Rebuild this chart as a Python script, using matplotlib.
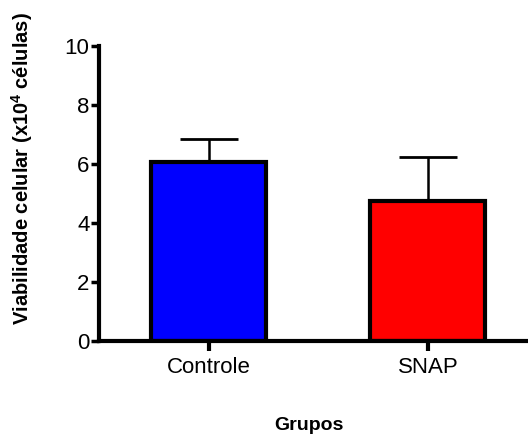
import numpy as np
import matplotlib
matplotlib.use('Agg')
from matplotlib import pyplot as plt

grupos = ['Controle', 'SNAP']
media = [6.07, 4.75]
erro = [0.76, 1.48]
cores = ['#0000ff', '#ff0000']

plt.rcParams['font.family'] = ['Liberation Sans', 'DejaVu Sans']
plt.rcParams['mathtext.fontset'] = 'custom'
plt.rcParams['mathtext.rm'] = 'Liberation Sans'
plt.rcParams['mathtext.bf'] = 'Liberation Sans:bold'

fig = plt.figure(figsize=(5.28, 4.41), dpi=100)
ax = fig.add_axes([0.188, 0.2275, 0.812, 0.669])

x = np.arange(len(grupos))
ax.bar(x, media, width=0.525, color=cores, edgecolor='black', linewidth=3, zorder=2)
ax.errorbar(x, media, yerr=[np.zeros(len(erro)), erro], fmt='none', ecolor='black',
            elinewidth=1.8, capsize=21, capthick=2, zorder=1)

ax.set_xlim(-0.5, 1.457)
ax.set_ylim(0, 10)
ax.set_yticks([0, 2, 4, 6, 8, 10])
ax.set_xticks(x)
ax.set_xticklabels(grupos)

for s in ['top', 'right']:
    ax.spines[s].set_visible(False)
for s in ['left', 'bottom']:
    ax.spines[s].set_linewidth(3)
    ax.spines[s].set_capstyle('projecting')

ax.tick_params(axis='y', direction='out', length=6, width=2.5, labelsize=16, pad=1)
ax.tick_params(axis='x', direction='out', length=7, width=3, labelsize=16, pad=5)

ax.set_ylabel(r'Viabilidade celular (x10$^\mathbf{4}$ células)', fontsize=14.5,
              fontweight='bold')
ax.yaxis.set_label_coords(-0.15, 0.584)
ax.set_xlabel('Grupos', fontsize=14, fontweight='bold')
ax.xaxis.set_label_coords(0.49, -0.26)

plt.savefig('out.png', dpi=100)
